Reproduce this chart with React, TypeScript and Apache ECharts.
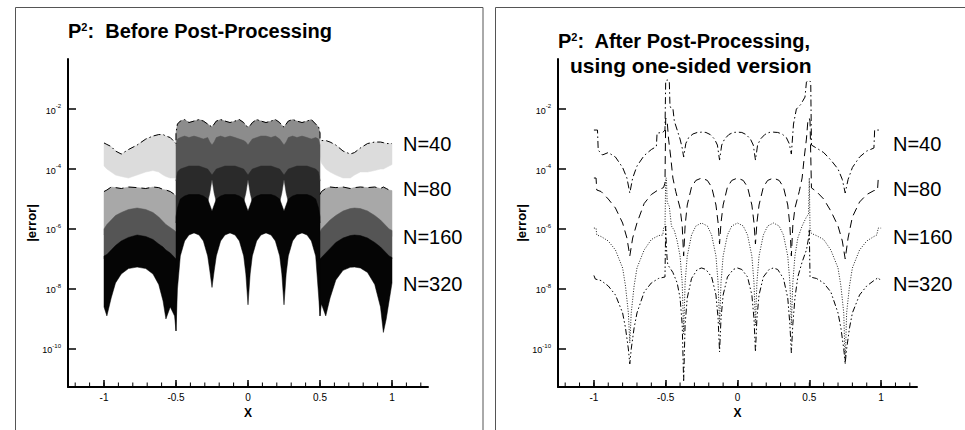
import React, { useEffect, useRef } from "react";
import * as echarts from "echarts";

const FONT = "Liberation Sans";

// ---- axis ticks ----
const xMajorTicks = [-1, -0.5, 0, 0.5, 1];
const xMinorTicks = [-1.2, -1.1, -1.0, -0.9, -0.8, -0.7, -0.6, -0.5, -0.4, -0.3, -0.2, -0.1, 0, 0.1, 0.2, 0.3, 0.4, 0.5, 0.6, 0.7, 0.8, 0.9, 1.0, 1.1, 1.2];
const yExpTicks = [-10, -8, -6, -4, -2];
const seriesNames = ["N=40", "N=80", "N=160", "N=320"];
const Y_MIN = -11.27;
const Y_MAX = -0.33;
const MINOR_TICK_LEN = 0.15; // in decades (~4.5px)

// ---- LEFT PANEL (before post-processing): envelopes of the dense oscillation, log10(|error|) ----
const lobeLX = [-1.0, -0.98, -0.95, -0.92, -0.88, -0.83, -0.77, -0.71, -0.66, -0.62, -0.59, -0.57, -0.54, -0.51, -0.5];
const lobeRX = [0.5, 0.51, 0.54, 0.57, 0.61, 0.66, 0.71, 0.74, 0.78, 0.83, 0.88, 0.92, 0.94, 0.96, 0.98, 1.0];
const centerX = [-0.5, -0.49, -0.47, -0.44, -0.41, -0.375, -0.34, -0.31, -0.28, -0.265, -0.25, -0.235, -0.22, -0.19, -0.16, -0.125, -0.09, -0.06, -0.03, -0.015, 0, 0.015, 0.03, 0.06, 0.09, 0.125, 0.16, 0.19, 0.22, 0.235, 0.25, 0.265, 0.28, 0.31, 0.34, 0.375, 0.41, 0.44, 0.47, 0.49, 0.5];

const n320LTop = [-6.9, -6.85, -6.7, -6.55, -6.4, -6.28, -6.2, -6.25, -6.35, -6.5, -6.6, -6.7, -6.8, -6.95, -7.0];
const n320LBot = [-8.6, -8.9, -8.3, -7.8, -7.5, -7.32, -7.27, -7.32, -7.5, -7.85, -8.4, -9.0, -8.6, -8.9, -9.4];
const n160LTop = [-6.0, -5.85, -5.7, -5.55, -5.45, -5.35, -5.3, -5.35, -5.45, -5.6, -5.75, -5.85, -5.95, -6.05, -6.1];
const n160LBot = [-7.0, -7.0, -6.9, -6.7, -6.5, -6.4, -6.3, -6.35, -6.45, -6.6, -6.7, -6.8, -6.9, -7.0, -7.0];
const n80LTop = [-4.75, -4.7, -4.6, -4.62, -4.65, -4.6, -4.62, -4.65, -4.6, -4.62, -4.68, -4.7, -4.75, -4.85, -4.9];
const n80LBot = [-6.2, -6.05, -5.9, -5.75, -5.65, -5.55, -5.5, -5.55, -5.65, -5.8, -5.95, -6.05, -6.15, -6.25, -6.3];
const n40LTop = [-3.13, -3.18, -3.25, -3.4, -3.5, -3.35, -3.2, -3.0, -2.9, -2.85, -2.85, -2.9, -2.95, -3.1, -3.15];
const n40LBot = [-3.9, -4.0, -4.1, -4.2, -4.25, -4.3, -4.2, -4.1, -4.05, -4.1, -4.2, -4.25, -4.3, -4.3, -4.3];

const n320RTop = [-7.0, -6.95, -6.8, -6.65, -6.45, -6.3, -6.22, -6.2, -6.22, -6.3, -6.45, -6.6, -6.7, -6.8, -6.9, -6.95];
const n320RBot = [-8.9, -8.5, -8.9, -8.3, -7.7, -7.38, -7.28, -7.27, -7.3, -7.45, -7.85, -8.6, -9.45, -9.0, -8.4, -7.8];
const n160RTop = [-6.1, -6.0, -5.85, -5.7, -5.55, -5.4, -5.32, -5.3, -5.32, -5.4, -5.55, -5.7, -5.8, -5.9, -6.0, -6.05];
const n160RBot = [-7.0, -7.0, -6.85, -6.7, -6.5, -6.35, -6.3, -6.3, -6.3, -6.35, -6.5, -6.65, -6.75, -6.85, -6.95, -7.0];
const n80RTop = [-4.85, -4.75, -4.65, -4.6, -4.62, -4.6, -4.65, -4.62, -4.6, -4.62, -4.6, -4.65, -4.6, -4.65, -4.7, -4.72];
const n80RBot = [-6.3, -6.2, -6.05, -5.9, -5.75, -5.6, -5.52, -5.5, -5.52, -5.6, -5.75, -5.9, -6.0, -6.1, -6.2, -6.25];
const n40RTop = [-3.0, -3.05, -3.05, -3.1, -3.2, -3.4, -3.5, -3.45, -3.3, -3.15, -3.1, -3.1, -3.12, -3.15, -3.15, -3.15];
const n40RBot = [-3.6, -3.8, -4.0, -4.1, -4.2, -4.3, -4.3, -4.2, -4.1, -4.1, -4.05, -4.0, -4.0, -3.95, -3.9, -3.85];

const n320CTop = [-5.6, -5.3, -5.0, -4.9, -4.85, -4.85, -4.85, -4.9, -5.0, -5.2, -5.4, -5.2, -5.0, -4.9, -4.85, -4.85, -4.85, -4.9, -5.0, -5.2, -5.4, -5.2, -5.0, -4.9, -4.85, -4.85, -4.85, -4.9, -5.0, -5.2, -5.4, -5.2, -5.0, -4.9, -4.85, -4.85, -4.85, -4.9, -5.0, -5.3, -5.6];
const n320CBot = [-9.4, -8.0, -6.9, -6.4, -6.2, -6.13, -6.2, -6.4, -6.9, -7.4, -7.95, -7.4, -6.9, -6.4, -6.2, -6.13, -6.2, -6.4, -6.9, -7.5, -8.53, -7.5, -6.9, -6.4, -6.2, -6.13, -6.2, -6.4, -6.9, -7.5, -8.53, -7.5, -6.9, -6.4, -6.2, -6.13, -6.2, -6.4, -6.9, -8.2, -8.9];
const n160CTop = [-4.4, -4.1, -4.0, -3.95, -3.9, -3.9, -3.9, -3.95, -4.0, -4.1, -4.2, -4.1, -4.0, -3.95, -3.9, -3.9, -3.9, -3.95, -4.0, -4.1, -4.2, -4.1, -4.0, -3.95, -3.9, -3.9, -3.9, -3.95, -4.0, -4.1, -4.2, -4.1, -4.0, -3.95, -3.9, -3.9, -3.9, -3.95, -4.0, -4.1, -4.4];
const n160CBot = [-5.8, -5.5, -5.2, -5.1, -5.1, -5.1, -5.1, -5.1, -5.1, -4.8, -4.35, -4.8, -5.1, -5.1, -5.1, -5.1, -5.1, -5.1, -5.1, -4.8, -4.35, -4.8, -5.1, -5.1, -5.1, -5.1, -5.1, -5.1, -5.1, -4.8, -4.35, -4.8, -5.1, -5.1, -5.1, -5.1, -5.1, -5.1, -5.2, -5.5, -5.8];
const n80CTop = [-3.2, -3.0, -2.95, -2.9, -2.95, -2.9, -2.95, -3.0, -2.95, -3.1, -3.2, -3.1, -2.95, -2.9, -2.95, -2.9, -2.95, -3.0, -3.05, -3.1, -3.2, -3.1, -3.0, -2.95, -2.9, -2.9, -2.95, -2.9, -3.0, -3.1, -3.2, -3.1, -2.95, -2.9, -2.95, -2.9, -2.95, -3.0, -2.95, -3.0, -3.2];
const n80CBot = [-4.4, -4.2, -4.2, -4.2, -4.2, -4.2, -4.2, -4.2, -4.2, -4.2, -4.25, -4.2, -4.2, -4.2, -4.2, -4.2, -4.2, -4.2, -4.2, -4.2, -4.25, -4.2, -4.2, -4.2, -4.2, -4.2, -4.2, -4.2, -4.2, -4.2, -4.25, -4.2, -4.2, -4.2, -4.2, -4.2, -4.2, -4.2, -4.2, -4.2, -4.4];
const n40CTop = [-2.8, -2.5, -2.4, -2.35, -2.45, -2.4, -2.35, -2.4, -2.5, -2.55, -2.6, -2.5, -2.4, -2.35, -2.4, -2.45, -2.4, -2.35, -2.45, -2.55, -2.6, -2.55, -2.45, -2.35, -2.4, -2.45, -2.4, -2.35, -2.45, -2.55, -2.6, -2.5, -2.4, -2.35, -2.4, -2.45, -2.4, -2.35, -2.5, -2.6, -2.8];
const n40CBot = [-3.2, -3.35, -3.35, -3.35, -3.35, -3.35, -3.35, -3.35, -3.35, -3.35, -3.35, -3.35, -3.35, -3.35, -3.35, -3.35, -3.35, -3.35, -3.35, -3.35, -3.35, -3.35, -3.35, -3.35, -3.35, -3.35, -3.35, -3.35, -3.35, -3.35, -3.35, -3.35, -3.35, -3.35, -3.35, -3.35, -3.35, -3.35, -3.35, -3.35, -3.2];

// ---- RIGHT PANEL (after post-processing), log10(|error|) ----
const r40X = [-1, -0.975, -0.97, -0.94, -0.9, -0.85, -0.8, -0.77, -0.75, -0.73, -0.7, -0.65, -0.6, -0.565, -0.56, -0.52, -0.505, -0.5, -0.49, -0.475, -0.47, -0.45, -0.44, -0.42, -0.4, -0.385, -0.375, -0.36, -0.34, -0.31, -0.28, -0.25, -0.22, -0.19, -0.16, -0.14, -0.125, -0.11, -0.09, -0.06, -0.03, 0, 0.03, 0.06, 0.09, 0.11, 0.125, 0.14, 0.16, 0.19, 0.22, 0.25, 0.28, 0.31, 0.34, 0.36, 0.375, 0.39, 0.41, 0.44, 0.47, 0.48, 0.49, 0.5, 0.51, 0.515, 0.55, 0.6, 0.65, 0.7, 0.73, 0.75, 0.77, 0.8, 0.85, 0.9, 0.95, 0.955, 1.0];
const r40Y = [-2.7, -2.7, -3.37, -3.53, -3.45, -3.6, -3.95, -4.3, -4.8, -4.3, -3.9, -3.55, -3.35, -3.25, -2.8, -2.78, -2.7, -1.05, -1.03, -1.05, -1.93, -1.97, -2.4, -2.7, -3.0, -3.3, -3.6, -3.15, -2.95, -2.83, -2.78, -2.77, -2.78, -2.85, -3.0, -3.2, -3.7, -3.2, -3.0, -2.85, -2.78, -2.77, -2.78, -2.85, -3.0, -3.2, -3.7, -3.2, -3.0, -2.85, -2.78, -2.77, -2.78, -2.83, -2.95, -3.15, -3.5, -2.5, -2.0, -1.85, -1.6, -1.1, -1.05, -1.05, -1.1, -3.2, -3.3, -3.45, -3.7, -4.0, -4.35, -4.8, -4.35, -3.95, -3.6, -3.4, -3.3, -2.7, -2.7];

const r80X = [-1, -0.985, -0.98, -0.95, -0.9, -0.85, -0.8, -0.77, -0.75, -0.73, -0.7, -0.65, -0.6, -0.56, -0.53, -0.515, -0.505, -0.5, -0.49, -0.48, -0.465, -0.45, -0.43, -0.4, -0.385, -0.375, -0.365, -0.35, -0.32, -0.29, -0.25, -0.21, -0.18, -0.15, -0.135, -0.125, -0.115, -0.1, -0.07, -0.04, 0, 0.04, 0.07, 0.1, 0.115, 0.125, 0.135, 0.15, 0.18, 0.21, 0.25, 0.29, 0.32, 0.35, 0.365, 0.375, 0.385, 0.4, 0.43, 0.45, 0.465, 0.48, 0.49, 0.5, 0.505, 0.515, 0.55, 0.6, 0.65, 0.7, 0.73, 0.75, 0.77, 0.8, 0.85, 0.9, 0.95, 0.975, 0.98, 1.0];
const r80Y = [-4.3, -4.3, -4.7, -4.75, -5.0, -5.3, -5.8, -6.3, -6.9, -6.3, -5.8, -5.15, -4.85, -4.72, -4.65, -4.62, -4.47, -2.3, -2.4, -3.0, -3.6, -4.3, -4.75, -5.3, -5.9, -6.9, -5.9, -5.2, -4.6, -4.38, -4.3, -4.38, -4.6, -5.2, -5.8, -6.5, -5.8, -5.2, -4.6, -4.38, -4.3, -4.38, -4.6, -5.2, -5.8, -6.5, -5.8, -5.2, -4.6, -4.38, -4.3, -4.38, -4.6, -5.2, -5.9, -6.9, -5.9, -5.3, -4.75, -4.3, -3.6, -3.0, -2.4, -2.3, -2.4, -4.63, -4.75, -5.0, -5.4, -5.9, -6.4, -7.0, -6.3, -5.6, -5.1, -4.85, -4.72, -4.7, -4.33, -4.33];

const r160X = [-1, -0.985, -0.98, -0.95, -0.9, -0.85, -0.8, -0.78, -0.76, -0.75, -0.74, -0.72, -0.7, -0.65, -0.6, -0.55, -0.52, -0.515, -0.505, -0.5, -0.495, -0.49, -0.475, -0.46, -0.44, -0.42, -0.4, -0.385, -0.375, -0.365, -0.35, -0.32, -0.29, -0.25, -0.21, -0.18, -0.15, -0.135, -0.125, -0.115, -0.1, -0.07, -0.04, 0, 0.04, 0.07, 0.1, 0.115, 0.125, 0.135, 0.15, 0.18, 0.21, 0.25, 0.29, 0.32, 0.35, 0.365, 0.375, 0.385, 0.4, 0.42, 0.45, 0.48, 0.495, 0.5, 0.505, 0.515, 0.55, 0.6, 0.65, 0.7, 0.72, 0.74, 0.75, 0.76, 0.78, 0.8, 0.85, 0.9, 0.95, 0.97, 0.98, 1.0];
const r160Y = [-5.97, -5.97, -6.2, -6.25, -6.4, -6.7, -7.3, -7.9, -8.8, -9.8, -8.8, -7.9, -7.3, -6.7, -6.35, -6.22, -6.2, -5.97, -5.97, -4.3, -4.3, -5.1, -5.25, -5.9, -6.05, -6.4, -6.9, -7.8, -9.5, -7.8, -6.9, -6.2, -5.9, -5.8, -5.9, -6.2, -6.9, -7.8, -9.2, -7.8, -6.9, -6.2, -5.9, -5.8, -5.9, -6.2, -6.9, -7.8, -9.2, -7.8, -6.9, -6.2, -5.9, -5.8, -5.9, -6.2, -6.9, -7.8, -9.2, -7.8, -6.9, -6.3, -5.9, -5.6, -5.5, -4.3, -5.97, -6.15, -6.22, -6.35, -6.7, -7.3, -7.9, -8.8, -10.5, -8.8, -7.9, -7.3, -6.7, -6.4, -6.25, -6.2, -5.97, -5.97];

const r320X = [-1, -0.99, -0.95, -0.9, -0.85, -0.8, -0.78, -0.76, -0.75, -0.74, -0.72, -0.7, -0.65, -0.6, -0.55, -0.505, -0.5, -0.495, -0.49, -0.485, -0.47, -0.45, -0.42, -0.4, -0.385, -0.375, -0.365, -0.35, -0.32, -0.28, -0.25, -0.22, -0.18, -0.15, -0.135, -0.125, -0.115, -0.1, -0.07, -0.03, 0, 0.03, 0.07, 0.1, 0.115, 0.125, 0.135, 0.15, 0.18, 0.22, 0.25, 0.28, 0.32, 0.35, 0.365, 0.375, 0.385, 0.4, 0.42, 0.45, 0.48, 0.495, 0.5, 0.505, 0.55, 0.6, 0.65, 0.7, 0.72, 0.74, 0.75, 0.76, 0.78, 0.8, 0.85, 0.9, 0.95, 0.98, 1.0];
const r320Y = [-7.55, -7.67, -7.72, -7.9, -8.2, -8.8, -9.3, -10.0, -10.5, -10.0, -9.3, -8.8, -8.1, -7.8, -7.65, -7.6, -5.9, -6.6, -7.0, -7.2, -7.3, -7.45, -7.8, -8.3, -9.2, -11.1, -9.2, -8.3, -7.65, -7.35, -7.3, -7.35, -7.6, -8.2, -9.0, -10.1, -9.0, -8.2, -7.6, -7.35, -7.3, -7.35, -7.6, -8.2, -9.0, -10.1, -9.0, -8.2, -7.6, -7.35, -7.3, -7.35, -7.65, -8.3, -9.2, -10.13, -9.2, -8.3, -7.6, -7.1, -6.7, -6.3, -6.0, -7.6, -7.65, -7.8, -8.1, -8.8, -9.3, -10.0, -10.47, -10.0, -9.3, -8.8, -8.2, -7.9, -7.72, -7.62, -7.75];

const pairs = (xs: number[], ys: number[]) => xs.map((x, i) => [x, ys[i]]);

function band(xs: number[], top: number[], bot: number[], fill: string, xAxisIndex: number, yAxisIndex: number) {
  return {
    type: "custom",
    xAxisIndex,
    yAxisIndex,
    silent: true,
    clip: true,
    data: [[xs[0], top[0]]],
    renderItem: (_params: any, api: any) => {
      const pts: number[][] = [];
      for (let i = 0; i < xs.length; i++) pts.push(api.coord([xs[i], top[i]]));
      for (let i = xs.length - 1; i >= 0; i--) pts.push(api.coord([xs[i], bot[i]]));
      return { type: "polygon", shape: { points: pts }, style: { fill, stroke: fill, lineWidth: 0.5 } };
    },
  };
}

// minor x ticks as short vertical segments (broken line series), placed by the axis scales
function minorTicks(xAxisIndex: number, yAxisIndex: number) {
  const data: any[] = [];
  xMinorTicks.forEach((v) => {
    data.push([v, Y_MIN + 0.01]);
    data.push([v, Y_MIN + MINOR_TICK_LEN]);
    data.push([v, null]);
  });
  return {
    type: "line",
    xAxisIndex,
    yAxisIndex,
    data,
    symbol: "none",
    silent: true,
    clip: false,
    connectNulls: false,
    z: 5,
    lineStyle: { color: "#000", width: 1, type: "solid" },
  };
}

function curve(xs: number[], ys: number[], dash: number[], xAxisIndex: number, yAxisIndex: number, color = "#000") {
  return {
    type: "line",
    xAxisIndex,
    yAxisIndex,
    data: pairs(xs, ys),
    symbol: "none",
    silent: true,
    clip: true,
    lineStyle: { color, width: 1, type: dash },
  };
}

const DASH40 = [7, 3, 1.5, 3];
const DASH80 = [8, 5];
const DOT160 = [1, 1.6];
const DASH320 = [6, 2.5, 1.5, 2.5, 1.5, 2.5];

function xAxis(gridIndex: number) {
  return {
    type: "value",
    gridIndex,
    position: "bottom",
    min: -1.25,
    max: 1.25,
    axisLine: { show: true, onZero: false, lineStyle: { color: "#000", width: 2 } },
    axisTick: { show: true, inside: true, length: 7, customValues: xMajorTicks, lineStyle: { color: "#000", width: 1.5 } },
    axisLabel: { show: true, customValues: xMajorTicks, fontSize: 10, fontFamily: FONT, color: "#000", margin: 5 },
    splitLine: { show: false },
    name: "X",
    nameLocation: "middle",
    nameGap: 15,
    nameTextStyle: { fontWeight: "bold", fontSize: 12, fontFamily: FONT, color: "#000" },
  };
}

function yAxis(gridIndex: number) {
  return {
    type: "value",
    gridIndex,
    min: Y_MIN,
    max: Y_MAX,
    axisLine: { show: true, onZero: false, lineStyle: { color: "#000", width: 2 } },
    axisTick: { show: true, inside: true, length: 8, customValues: yExpTicks, lineStyle: { color: "#000", width: 1.5 } },
    axisLabel: {
      show: true,
      customValues: yExpTicks,
      margin: 7,
      formatter: (v: number) => `{b|10}{s|${v}}`,
      rich: {
        b: { fontSize: 9, fontFamily: FONT, color: "#000", lineHeight: 12, verticalAlign: "bottom" },
        s: { fontSize: 6, fontFamily: FONT, color: "#000", lineHeight: 5, verticalAlign: "top" },
      },
    },
    splitLine: { show: false },
    name: "|error|",
    nameLocation: "middle",
    nameRotate: 90,
    nameGap: 27,
    nameTextStyle: { fontWeight: "bold", fontSize: 13, fontFamily: FONT, color: "#000" },
  };
}

function nLabels(x: number) {
  const ys = [143.5, 188.5, 236.5, 283.5];
  return seriesNames.map((t, i) => ({
    type: "text",
    x,
    y: ys[i],
    style: { text: t, font: `20px "${FONT}"`, fill: "#000", verticalAlign: "middle" },
  }));
}

const titleRich = {
  p: { fontSize: 20, fontWeight: "bold", fontFamily: FONT, fill: "#000", lineHeight: 20, verticalAlign: "bottom" },
  s: { fontSize: 11, fontWeight: "bold", fontFamily: FONT, fill: "#000", lineHeight: 11, verticalAlign: "top" },
};
const line2Rich = {
  q: { fontSize: 21, fontWeight: "bold", fontFamily: FONT, fill: "#000", lineHeight: 18 },
};

export default function App() {
  const ref = useRef<HTMLDivElement>(null);
  useEffect(() => {
    const chart = echarts.init(ref.current!, null, { renderer: "svg", width: 965, height: 430 });
    const L = 0, R = 1;
    const option: any = {
      animation: false,
      backgroundColor: "#fff",
      grid: [
        { left: 68, top: 59, width: 360, height: 328 },
        { left: 558, top: 59, width: 359, height: 328 },
      ],
      xAxis: [xAxis(0), xAxis(1)],
      yAxis: [yAxis(0), yAxis(1)],
      series: [
        // left panel bands
        band(lobeLX, n40LTop, n40LBot, "#dcdcdc", L, 0),
        band(centerX, n40CTop, n40CBot, "#8c8c8c", L, 0),
        band(lobeRX, n40RTop, n40RBot, "#dcdcdc", L, 0),
        band(lobeLX, n80LTop, n80LBot, "#a8a8a8", L, 0),
        band(centerX, n80CTop, n80CBot, "#555555", L, 0),
        band(lobeRX, n80RTop, n80RBot, "#a8a8a8", L, 0),
        band(lobeLX, n160LTop, n160LBot, "#555555", L, 0),
        band(centerX, n160CTop, n160CBot, "#2a2a2a", L, 0),
        band(lobeRX, n160RTop, n160RBot, "#555555", L, 0),
        band(lobeLX, n320LTop, n320LBot, "#050505", L, 0),
        band(centerX, n320CTop, n320CBot, "#050505", L, 0),
        band(lobeRX, n320RTop, n320RBot, "#050505", L, 0),
        curve([...lobeLX, ...centerX, ...lobeRX], [...n40LTop, ...n40CTop, ...n40RTop], DASH40, L, 0),
        curve(lobeLX, n80LTop, DASH80, L, 0),
        curve(lobeRX, n80RTop, DASH80, L, 0),
        // right panel curves
        curve(r40X, r40Y, DASH40, R, 1),
        curve(r80X, r80Y, DASH80, R, 1),
        curve(r160X, r160Y, DOT160, R, 1, "#222"),
        curve(r320X, r320Y, DASH320, R, 1),
        minorTicks(L, 0),
        minorTicks(R, 1),
      ],
      graphic: [
        { type: "rect", shape: { x: 15.5, y: 7.5, width: 467.5, height: 440 }, style: { fill: "none", stroke: "#555", lineWidth: 1 }, silent: true },
        { type: "rect", shape: { x: 495.5, y: 7.5, width: 480, height: 440 }, style: { fill: "none", stroke: "#555", lineWidth: 1 }, silent: true },
        { type: "text", x: 68, y: 21, style: { text: "{p|P}{s|2}{p|:  Before Post-Processing}", rich: titleRich, verticalAlign: "top" } },
        { type: "text", x: 558, y: 31, style: { text: "{p|P}{s|2}{p|:  After Post-Processing,}", rich: titleRich, verticalAlign: "top" } },
        { type: "text", x: 570, y: 56, style: { text: "{q|using one-sided version}", rich: line2Rich, verticalAlign: "top" } },
        ...nLabels(403),
        ...nLabels(893),
      ],
    };
    chart.setOption(option);
    return () => chart.dispose();
  }, []);
  return <div ref={ref} style={{ position: "absolute", left: 0, top: 0, width: 965, height: 430, background: "#fff" }} />;
}
